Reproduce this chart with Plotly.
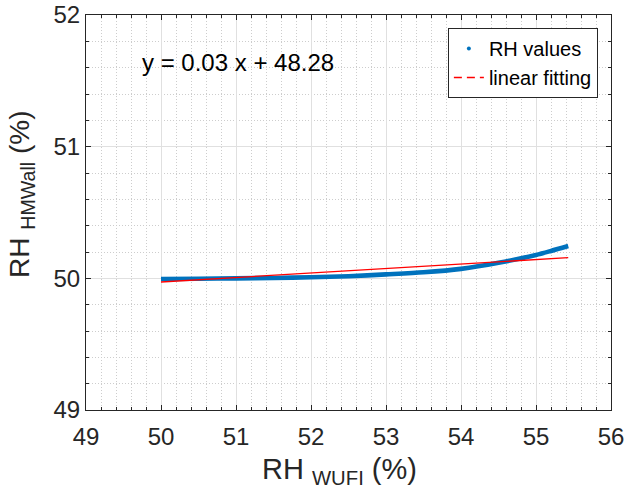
import plotly.graph_objects as go

# Data
rh_wufi = [50.0, 50.5, 51.0, 51.5, 52.0, 52.5, 53.0, 53.5, 54.0, 54.5, 55.0, 55.2, 55.43]
rh_hmwall = [49.995, 49.997, 50.0, 50.003, 50.008, 50.016, 50.03, 50.046, 50.072, 50.118, 50.178, 50.208, 50.245]

fit_x = [50.0, 55.43]
fit_y = [49.972, 50.157]

fit_label = "y = 0.03 x + 48.28"
x_title = "RH <sub>WUFI</sub> (%)"
y_title = "RH <sub>HMWall</sub> (%)"

x_ticks = [49, 50, 51, 52, 53, 54, 55, 56]
y_ticks = [49, 50, 51, 52]

blue = "#0072BD"
red = "#FF0000"
axis_col = "#262626"
font_family = "Liberation Sans, Arial, sans-serif"

fig = go.Figure()

fig.add_trace(go.Scatter(
    x=rh_wufi, y=rh_hmwall, mode="lines",
    line=dict(color=blue, width=4.6, shape="spline", smoothing=0.8),
    showlegend=False,
))
fig.add_trace(go.Scatter(
    x=[None], y=[None], mode="markers",
    marker=dict(color=blue, size=4),
    name="RH values",
))
fig.add_trace(go.Scatter(
    x=fit_x, y=fit_y, mode="lines",
    line=dict(color=red, width=1.3),
    showlegend=False,
))
fig.add_trace(go.Scatter(
    x=[None], y=[None], mode="lines",
    line=dict(color=red, width=1.5, dash="8px,5px"),
    name="linear fitting",
))

fig.add_annotation(
    x=51.03, y=51.643, xref="x", yref="y", text=fit_label, showarrow=False,
    font=dict(family=font_family, size=24, color="#000000"),
)
fig.add_annotation(
    x=0.4838, y=-0.105, xref="paper", yref="paper", text=x_title, showarrow=False,
    xanchor="center", yanchor="top",
    font=dict(family=font_family, size=29, color=axis_col),
)
fig.add_annotation(
    x=-0.122, y=0.547, xref="paper", yref="paper", text=y_title, showarrow=False,
    xanchor="center", yanchor="middle", textangle=-90,
    font=dict(family=font_family, size=28, color=axis_col),
)

minor_common = dict(dtick=0.2, tick0=49, showgrid=True, gridcolor="#cdcdcd",
                    griddash="1px,2px", gridwidth=1, ticks="inside", ticklen=3,
                    tickcolor=axis_col)

axis_common = dict(
    showline=True, linecolor=axis_col, linewidth=1, mirror="ticks",
    ticks="inside", ticklen=5, tickcolor=axis_col,
    showgrid=True, gridcolor="#e0e0e0", gridwidth=1,
    zeroline=False, automargin=False, ticklabeloverflow="allow",
    tickfont=dict(family=font_family, size=24, color=axis_col),
)

fig.update_xaxes(
    range=[49, 56], tickvals=x_ticks, ticktext=[str(v) for v in x_ticks],
    minor=minor_common, ticklabelstandoff=5,
    **axis_common,
)
fig.update_yaxes(
    range=[49, 52], tickvals=y_ticks, ticktext=[str(v) for v in y_ticks],
    minor=minor_common, ticklabelstandoff=0,
    **axis_common,
)

fig.update_layout(
    width=624, height=488,
    margin=dict(l=86, r=13, t=15, b=78),
    paper_bgcolor="white", plot_bgcolor="white",
    font=dict(family=font_family, color=axis_col),
    legend=dict(
        x=0.975, y=0.967, xanchor="right", yanchor="top",
        bgcolor="white", bordercolor="#262626", borderwidth=1,
        font=dict(family=font_family, size=20, color="#000000"),
        itemwidth=30, tracegroupgap=0,
    ),
)

# remove the default 8px page margin so the figure sits at the window's corner
fig.write_html("out.html", config={"displayModeBar": False},
               post_script="document.body.style.margin='0';")
